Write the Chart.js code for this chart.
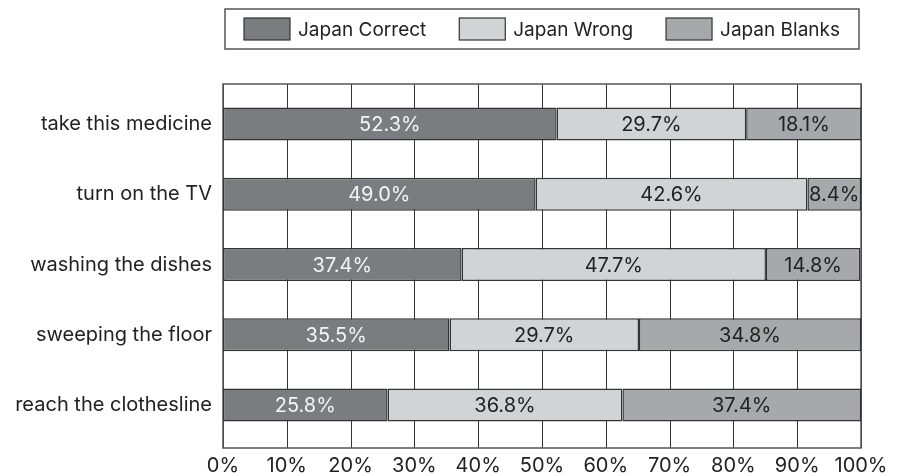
<!DOCTYPE html>
<html>
<head>
<meta charset="utf-8">
<script src="https://cdn.jsdelivr.net/npm/chart.js@4/dist/chart.umd.min.js"></script>
<style>
  html, body { margin: 0; padding: 0; background: #fff; }
  #wrap { width: 903px; height: 476px; position: relative; }
</style>
</head>
<body>
<div id="wrap"><canvas id="chart"></canvas></div>
<script>
const categories = [
  "take this medicine",
  "turn on the TV",
  "washing the dishes",
  "sweeping the floor",
  "reach the clothesline"
];
const seriesNames = ["Japan Correct", "Japan Wrong", "Japan Blanks"];
const correct = [52.3, 49.0, 37.4, 35.5, 25.8];
const wrong = [29.7, 42.6, 47.7, 29.7, 36.8];
const blanks = [18.1, 8.4, 14.8, 34.8, 37.4];

const fills = ["#7b7c7f", "#d2d3d5", "#a7a8ab"];
const labelColors = ["#f4f4f4", "#222", "#222"];
const FONT = "Inter, 'Liberation Sans', Arial, sans-serif";

// frame + vertical grid, a bit taller than the bar band
const framePlugin = {
  id: "frame",
  beforeDatasetsDraw(chart) {
    const { ctx, chartArea: a, scales } = chart;
    const top = a.top - 5, bottom = a.bottom + 8;
    ctx.save();
    ctx.strokeStyle = "#333";
    ctx.lineWidth = 1;
    scales.x.ticks.forEach(t => {
      const x = Math.round(scales.x.getPixelForValue(t.value)) + 0.5;
      ctx.beginPath();
      ctx.moveTo(x, top);
      ctx.lineTo(x, bottom);
      ctx.stroke();
    });
    ctx.strokeStyle = "#555";
    ctx.lineWidth = 1.5;
    ctx.strokeRect(a.left, top, a.right - a.left, bottom - top);
    ctx.restore();
  }
};

const valuePlugin = {
  id: "values",
  afterDatasetsDraw(chart) {
    const { ctx } = chart;
    ctx.save();
    ctx.font = "20px " + FONT;
    ctx.textAlign = "center";
    ctx.textBaseline = "middle";
    chart.data.datasets.forEach((ds, i) => {
      chart.getDatasetMeta(i).data.forEach((el, j) => {
        ctx.fillStyle = labelColors[i];
        ctx.fillText(ds.data[j].toFixed(1) + "%", (el.x + el.base) / 2, el.y + 1);
      });
    });
    ctx.restore();
  }
};

const legendPlugin = {
  id: "boxLegend",
  afterDraw(chart) {
    const { ctx, chartArea: a } = chart;
    ctx.save();
    ctx.font = "19px " + FONT;
    const sw = 46, sh = 22, gapText = 8, gapItem = 33, padX = 19;
    const widths = chart.data.datasets.map(ds => ctx.measureText(ds.label).width);
    let inner = 0;
    widths.forEach((w, i) => { inner += sw + gapText + w + (i < widths.length - 1 ? gapItem : 0); });
    const boxW = inner + padX * 2;
    const boxX = Math.round((a.left + a.right) / 2 - boxW / 2);
    const boxY = 9, boxH = 40;
    ctx.strokeStyle = "#555";
    ctx.lineWidth = 1.5;
    ctx.strokeRect(boxX, boxY, boxW, boxH);
    let x = boxX + padX;
    const cy = boxY + boxH / 2;
    chart.data.datasets.forEach((ds, i) => {
      ctx.fillStyle = ds.backgroundColor;
      ctx.fillRect(x, cy - sh / 2, sw, sh);
      ctx.strokeStyle = "#333";
      ctx.lineWidth = 1.2;
      ctx.strokeRect(x, cy - sh / 2, sw, sh);
      ctx.fillStyle = "#222";
      ctx.textBaseline = "middle";
      ctx.fillText(ds.label, x + sw + gapText, cy + 1);
      x += sw + gapText + widths[i] + gapItem;
    });
    ctx.restore();
  }
};

const seriesValues = [correct, wrong, blanks];

new Chart(document.getElementById("chart"), {
  type: "bar",
  data: {
    labels: categories,
    datasets: seriesNames.map((name, i) => ({
      label: name,
      data: seriesValues[i],
      backgroundColor: fills[i],
      borderColor: "#333",
      borderWidth: 1.5,
      borderSkipped: false,
      barPercentage: 0.47,
      categoryPercentage: 1
    }))
  },
  options: {
    indexAxis: "y",
    responsive: true,
    maintainAspectRatio: false,
    animation: false,
    layout: { padding: { top: 89, right: 42, bottom: 0, left: 0 } },
    plugins: {
      legend: { display: false },
      tooltip: { enabled: false }
    },
    scales: {
      x: {
        stacked: true,
        min: 0,
        max: 100,
        grid: { display: false, drawTicks: false },
        border: { display: false },
        ticks: {
          stepSize: 10,
          padding: 14,
          color: "#222",
          font: { size: 20, family: FONT },
          callback: v => v + "%"
        },
        afterFit: s => { s.height = 36; }
      },
      y: {
        stacked: true,
        grid: { display: false, drawTicks: false },
        border: { display: false },
        ticks: {
          padding: 11,
          color: "#222",
          font: { size: 20, family: FONT }
        },
        afterFit: s => { s.width = 223; }
      }
    }
  },
  plugins: [framePlugin, valuePlugin, legendPlugin]
});
</script>
</body>
</html>
